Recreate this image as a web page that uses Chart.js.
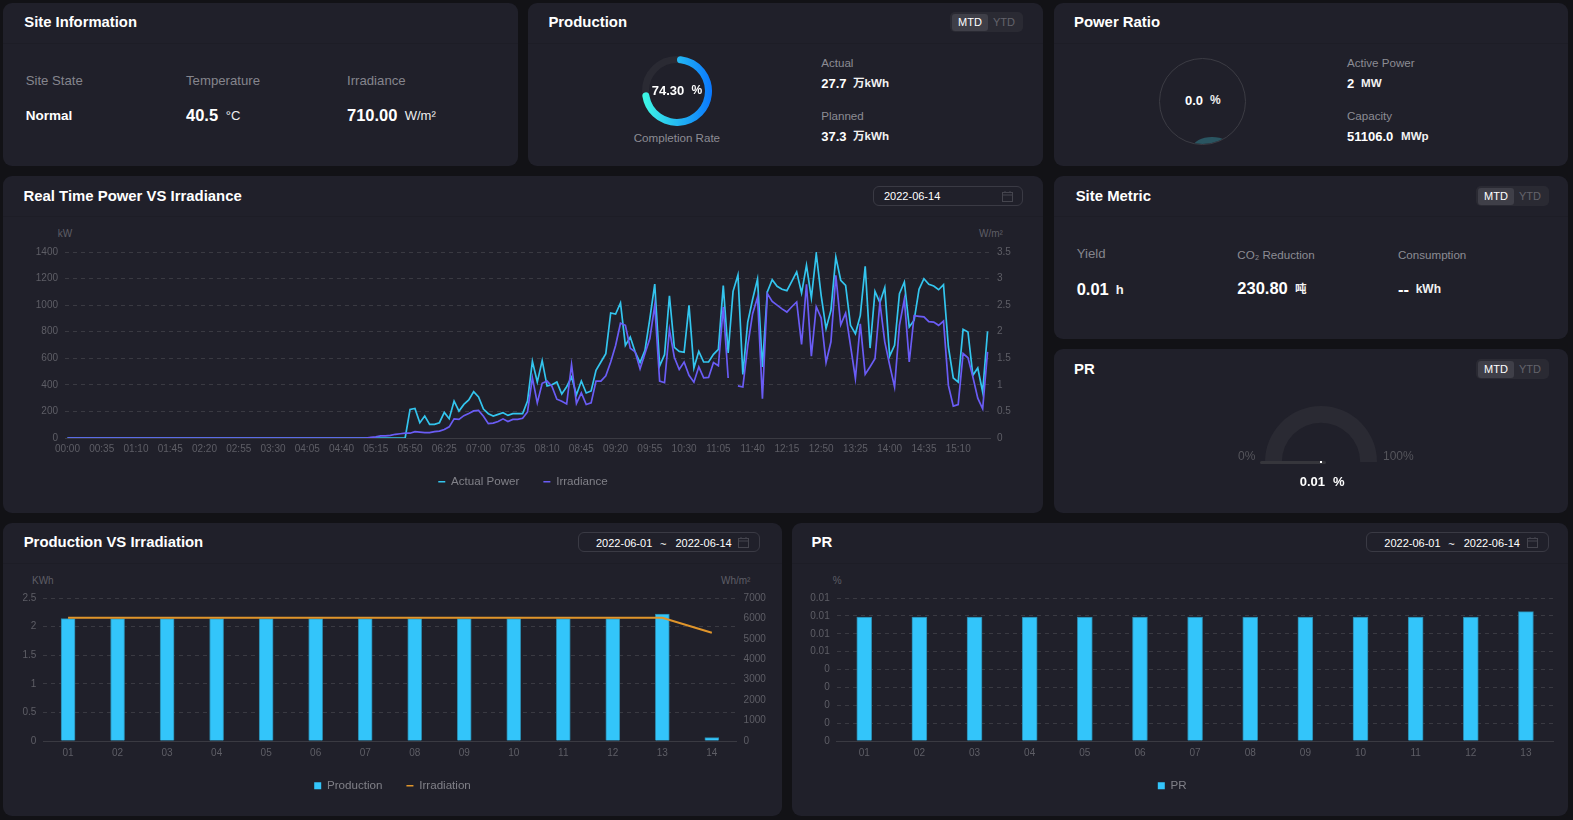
<!DOCTYPE html>
<html lang="en">
<head>
<meta charset="utf-8">
<title>Site dashboard</title>
<script src="https://cdn.jsdelivr.net/npm/chart.js@4/dist/chart.umd.js"></script>
<style>
html,body{margin:0;padding:0;width:1573px;height:820px;overflow:hidden;background:#121216;font-family:"Liberation Sans","Noto Sans CJK SC",sans-serif;}
.card{position:absolute;background:#20202a;border-radius:9px;box-sizing:border-box;}
.hd{position:absolute;left:0;right:0;top:0;height:40px;border-bottom:1px solid #1d1d26;box-sizing:content-box;}
.t{position:absolute;white-space:nowrap;line-height:1;transform:translateY(-50%);margin-top:-1px;}
.title{font-size:14.9px;font-weight:bold;color:#fff;margin-top:0;}
.lab{font-size:11.6px;color:#8c8c94;margin-top:0;}
.lab13{font-size:13.2px;color:#85858d;margin-top:0;}
.val{font-size:13px;font-weight:bold;color:#fff;}
.big{font-size:16.5px;font-weight:bold;color:#fff;}
.unit{font-size:11.6px;font-weight:bold;color:#f2f2f2;}
.axn{font-size:10px;color:#5e5e66;margin-top:0;}
.tog{position:absolute;width:73px;height:20px;background:#2a2a33;border-radius:5px;}
.tog i{position:absolute;left:2px;top:2px;width:36px;height:16.5px;background:#3f3f48;border-radius:3px;}
.tog b,.tog span{position:absolute;top:10px;font-size:11px;line-height:1;font-weight:normal;transform:translate(-50%,-50%);}
.tog b{left:20px;color:#fff;}
.tog span{left:54px;color:#63636b;}
.pick{position:absolute;height:20px;border:1px solid #3a3a44;border-radius:6px;box-sizing:border-box;}
.dt{font-size:11px;color:#fff;margin-top:0;}
svg.ic{position:absolute;width:11px;height:11px;}
canvas{position:absolute;display:block;}
</style>
</head>
<body>
<div class="card" style="left:3px;top:3px;width:515px;height:163px"><div class="hd"></div></div>
<div class="card" style="left:528px;top:3px;width:515px;height:163px"><div class="hd"></div></div>
<div class="card" style="left:1054px;top:3px;width:514px;height:163px"><div class="hd"></div></div>
<div class="card" style="left:3px;top:176px;width:1040px;height:337px"><div class="hd"></div></div>
<div class="card" style="left:1054px;top:176px;width:514px;height:163px"><div class="hd"></div></div>
<div class="card" style="left:1054px;top:349px;width:514px;height:164px"></div>
<div class="card" style="left:3px;top:523px;width:779px;height:293px"><div class="hd"></div></div>
<div class="card" style="left:792px;top:523px;width:776px;height:293px"><div class="hd"></div></div>

<!-- Site Information -->
<div class="t title" style="left:24.3px;top:21.5px;font-size:14.8px">Site Information</div>
<div class="t lab13" style="left:25.7px;top:81px">Site State</div>
<div class="t lab13" style="left:186px;top:81px">Temperature</div>
<div class="t lab13" style="left:347px;top:81px">Irradiance</div>
<div class="t" style="left:25.7px;top:116.5px;font-size:13.5px;font-weight:bold;color:#fff">Normal</div>
<div class="t big" style="left:186px;top:115.5px">40.5</div>
<div class="t" style="left:225.7px;top:116px;font-size:13px;color:#eee">°C</div>
<div class="t big" style="left:347px;top:115.5px">710.00</div>
<div class="t" style="left:404.7px;top:116px;font-size:13px;color:#eee">W/m²</div>

<!-- Production -->
<div class="t title" style="left:548.4px;top:21.5px">Production</div>
<div class="tog" style="left:950px;top:12px"><i></i><b>MTD</b><span>YTD</span></div>
<div class="t lab" style="left:676.9px;top:137.5px;transform:translate(-50%,-50%)">Completion Rate</div>
<div class="t lab" style="left:821.2px;top:62.8px">Actual</div>
<div class="t val" style="left:821.2px;top:83.5px">27.7</div>
<div class="t unit" style="left:853px;top:83.5px">万kWh</div>
<div class="t lab" style="left:821.2px;top:115.8px">Planned</div>
<div class="t val" style="left:821.2px;top:136.5px">37.3</div>
<div class="t unit" style="left:853px;top:136.5px">万kWh</div>
<div style="position:absolute;left:641.5px;top:55.7px;width:70px;height:70px;border:7px solid #2a2a33;border-radius:50%;box-sizing:border-box"></div>
<canvas id="ring" width="70" height="70" style="left:641.5px;top:55.7px"></canvas>
<div class="t val" style="left:651.8px;top:90.7px">74.30</div>
<div class="t" style="left:691.5px;top:91px;font-size:12px;font-weight:bold;color:#fff">%</div>

<!-- Power Ratio -->
<div class="t title" style="left:1074px;top:21.5px">Power Ratio</div>
<div style="position:absolute;left:1159px;top:57.7px;width:87px;height:87px;border:1px solid #3c3c44;border-radius:50%;box-sizing:border-box;overflow:hidden">
  <div style="position:absolute;left:33px;top:78.5px;width:38px;height:20px;background:#2a5561;border-radius:50%"></div>
</div>
<div class="t val" style="left:1185px;top:100.5px">0.0</div>
<div class="t" style="left:1210px;top:101px;font-size:12px;font-weight:bold;color:#eee">%</div>
<div class="t lab" style="left:1347px;top:62.8px">Active Power</div>
<div class="t val" style="left:1347px;top:83.5px">2</div>
<div class="t unit" style="left:1361px;top:84px">MW</div>
<div class="t lab" style="left:1347px;top:115.8px">Capacity</div>
<div class="t val" style="left:1347px;top:136.5px">51106.0</div>
<div class="t unit" style="left:1401px;top:137px">MWp</div>

<!-- Real Time Power VS Irradiance -->
<div class="t title" style="left:23.5px;top:195.5px">Real Time Power VS Irradiance</div>
<div class="pick" style="left:873px;top:186px;width:150px"></div>
<div class="t dt" style="left:884px;top:196px">2022-06-14</div>
<svg class="ic" style="left:1002px;top:191px" viewBox="0 0 11 11" fill="none" stroke="#45454e"><rect x=".5" y="1.5" width="10" height="9"/><path d="M.5 4h10M3 0v2M8 0v2"/></svg>
<div class="t axn" style="left:57.7px;top:234.3px">kW</div>
<div class="t axn" style="left:979px;top:234.3px">W/m²</div>
<canvas id="main" width="1040" height="282" style="left:3px;top:216px"></canvas>

<!-- Site Metric -->
<div class="t title" style="left:1075.7px;top:195.5px">Site Metric</div>
<div class="tog" style="left:1476px;top:186px"><i></i><b>MTD</b><span>YTD</span></div>
<div class="t lab13" style="left:1076.7px;top:254px">Yield</div>
<div class="t lab" style="left:1237.3px;top:254.5px">CO₂ Reduction</div>
<div class="t lab" style="left:1398px;top:254.5px">Consumption</div>
<div class="t big" style="left:1076.7px;top:289.5px">0.01</div>
<div class="t" style="left:1115.7px;top:290px;font-size:13px;font-weight:bold;color:#f2f2f2">h</div>
<div class="t big" style="left:1237.3px;top:288.5px">230.80</div>
<div class="t unit" style="left:1295px;top:290px">吨</div>
<div class="t big" style="left:1398px;top:290px">--</div>
<div class="t unit" style="left:1415.7px;top:290px;font-size:12px">kWh</div>

<!-- PR gauge -->
<div class="t title" style="left:1074px;top:368.5px">PR</div>
<div class="tog" style="left:1476px;top:359px"><i></i><b>MTD</b><span>YTD</span></div>
<canvas id="gauge" width="112" height="56" style="left:1265.3px;top:406px"></canvas>
<div style="position:absolute;left:1260px;top:460.5px;width:66px;height:3px;background:#36363c;border-radius:2px"></div>
<div style="position:absolute;left:1320px;top:461px;width:2px;height:2px;background:#fff"></div>
<div class="t" style="left:1238px;top:456.7px;font-size:12px;color:#55555c">0%</div>
<div class="t" style="left:1383px;top:456.7px;font-size:12px;color:#55555c">100%</div>
<div class="t val" style="left:1299.7px;top:482px">0.01</div>
<div class="t val" style="left:1333px;top:482px">%</div>

<!-- Production VS Irradiation -->
<div class="t title" style="left:23.7px;top:541.5px">Production VS Irradiation</div>
<div class="pick" style="left:578px;top:532px;width:182px"></div>
<div class="t dt" style="left:596px;top:543px">2022-06-01</div>
<div class="t dt" style="left:660px;top:543.5px">~</div>
<div class="t dt" style="left:675.4px;top:543px">2022-06-14</div>
<svg class="ic" style="left:738.4px;top:537px" viewBox="0 0 11 11" fill="none" stroke="#45454e"><rect x=".5" y="1.5" width="10" height="9"/><path d="M.5 4h10M3 0v2M8 0v2"/></svg>
<div class="t axn" style="left:32px;top:581.3px">KWh</div>
<div class="t axn" style="left:721px;top:581.3px">Wh/m²</div>
<canvas id="prod" width="779" height="236" style="left:3px;top:566px"></canvas>

<!-- PR by day -->
<div class="t title" style="left:811.6px;top:541.5px">PR</div>
<div class="pick" style="left:1366.3px;top:532px;width:182.5px"></div>
<div class="t dt" style="left:1384.3px;top:543px">2022-06-01</div>
<div class="t dt" style="left:1448.3px;top:543.5px">~</div>
<div class="t dt" style="left:1463.7px;top:543px">2022-06-14</div>
<svg class="ic" style="left:1526.7px;top:537px" viewBox="0 0 11 11" fill="none" stroke="#45454e"><rect x=".5" y="1.5" width="10" height="9"/><path d="M.5 4h10M3 0v2M8 0v2"/></svg>
<div class="t axn" style="left:832.7px;top:581.3px">%</div>
<canvas id="pr" width="777" height="236" style="left:791px;top:566px"></canvas>

<script>
const timeLabels = [
"00:00","00:05","00:10","00:15","00:20","00:25","00:30","00:35","00:40","00:45","00:50","00:55",
"01:00","01:05","01:10","01:15","01:20","01:25","01:30","01:35","01:40","01:45","01:50","01:55",
"02:00","02:05","02:10","02:15","02:20","02:25","02:30","02:35","02:40","02:45","02:50","02:55",
"03:00","03:05","03:10","03:15","03:20","03:25","03:30","03:35","03:40","03:45","03:50","03:55",
"04:00","04:05","04:10","04:15","04:20","04:25","04:30","04:35","04:40","04:45","04:50","04:55",
"05:00","05:05","05:10","05:15","05:20","05:25","05:30","05:35","05:40","05:45","05:50","05:55",
"06:00","06:05","06:10","06:15","06:20","06:25","06:30","06:35","06:40","06:45","06:50","06:55",
"07:00","07:05","07:10","07:15","07:20","07:25","07:30","07:35","07:40","07:45","07:50","07:55",
"08:00","08:05","08:10","08:15","08:20","08:25","08:30","08:35","08:40","08:45","08:50","08:55",
"09:00","09:05","09:10","09:15","09:20","09:25","09:30","09:35","09:40","09:45","09:50","09:55",
"10:00","10:05","10:10","10:15","10:20","10:25","10:30","10:35","10:40","10:45","10:50","10:55",
"11:00","11:05","11:10","11:15","11:20","11:25","11:30","11:35","11:40","11:45","11:50","11:55",
"12:00","12:05","12:10","12:15","12:20","12:25","12:30","12:35","12:40","12:45","12:50","12:55",
"13:00","13:05","13:10","13:15","13:20","13:25","13:30","13:35","13:40","13:45","13:50","13:55",
"14:00","14:05","14:10","14:15","14:20","14:25","14:30","14:35","14:40","14:45","14:50","14:55",
"15:00","15:05","15:10","15:15","15:20","15:25","15:30","15:35","15:40"];

const actualPower = [
0,0,0,0,0,0,0,0,0,0, 0,0,0,0,0,0,0,0,0,0,
0,0,0,0,0,0,0,0,0,0, 0,0,0,0,0,0,0,0,0,0,
0,0,0,0,0,0,0,0,0,0, 0,0,0,0,0,0,0,0,0,0,
0,0,0,0,0,0,0,0,0,0,
215,222,115,165,103,103,115,193,145,278,
203,253,286,349,309,218,183,165,178,190,
170,183,183,183,278,577,421,582,391,401,
421,331,386,459,326,429,339,354,509,572,
635,941,933,1016,697,760,647,567,660,898,
1159,542,627,1071,682,652,645,998,527,652,
572,572,630,667,1147,640,1104,1227,479,873,
1044,1197,534,1099,1192,1142,1119,1109,1179,1250,
1091,1300,1054,1387,1074,823,961,1362,1187,1149,
848,785,923,1292,677,1104,1019,1132,617,697,
1086,1174,835,886,1119,1199,1157,1144,1116,1154,
685,452,421,818,798,472,527,346,803];

const irradiance = [
0,0,0,0,0,0,0,0,0,0, 0,0,0,0,0,0,0,0,0,0,
0,0,0,0,0,0,0,0,0,0, 0,0,0,0,0,0,0,0,0,0,
0,0,0,0,0,0,0,0,0,0, 0,0,0,0,0,0,0,0,0,0,
0,0,.01,.02,.04,.04,.05,.07,.08,.09,
.09,.12,.11,.10,.10,.12,.13,.16,.21,.36,
.35,.42,.46,.51,.52,.41,.27,.28,.31,.36,
.31,.35,.35,.37,.49,1.13,.66,1.03,1.07,.97,
.73,.69,.64,1.38,.65,.85,.63,.66,1.07,1.07,
1.17,1.43,1.74,2.16,2.12,1.69,1.62,1.30,1.59,1.87,
2.50,1.07,1.04,2.04,1.52,1.29,1.43,1.18,1.05,1.34,
1.13,1.14,1.42,1.36,2.47,1.13,null,.98,.96,1.74,
2.34,2.65,.74,2.72,2.57,2.50,2.43,2.37,2.47,2.56,
1.76,2.89,1.54,2.47,2.26,1.42,1.81,3.06,2.13,2.35,
1.74,1.12,2.15,1.20,1.34,1.49,2.55,1.81,1.37,.96,
2.12,2.61,1.43,2.30,2.29,2.28,2.19,2.18,2.12,2.20,
.99,.60,.63,1.59,1.51,1.15,.75,.55,1.62];

const powerTicks = {max:1400, step:200};
const irrTicks = {max:3.5, step:.5};

const prodDays = ["01","02","03","04","05","06","07","08","09","10","11","12","13","14"];
const production = [2.14,2.14,2.14,2.14,2.14,2.14,2.14,2.14,2.14,2.14,2.14,2.14,2.22,0.06];
const irradiation = [6030,6030,6030,6030,6030,6030,6030,6030,6030,6030,6030,6030,6030,5300];

const prDays = ["01","02","03","04","05","06","07","08","09","10","11","12","13"];
const prValues = [.01387,.01387,.01387,.01387,.01387,.01387,.01387,.01387,.01387,.01387,.01387,.01387,.01447];

const completion = [74.3, 25.7];
const prGauge = [0.01, 99.99];

const FONT = '"Liberation Sans","Noto Sans CJK SC",sans-serif';
const TICK = '#5e5e66', GRID = '#3a3a42', CYAN = '#33c5fa';
Chart.defaults.font.family = FONT;
Chart.defaults.animation = false;

/* The x scale's box is kept short so the legend can sit close; let its labels draw past that box. */
const roomForXLabels = {id:'roomForXLabels',afterLayout(chart){ chart.scales.x.bottom += 12; }};

function legend(styles){
  return {
    position:'bottom',
    labels:{
      color:'#808088', font:{size:11.6,family:FONT}, padding:24,
      usePointStyle:true, boxWidth:7, boxHeight:7, pointStyleWidth:7,
      sort:(a,b)=>a.datasetIndex-b.datasetIndex,
      generateLabels(chart){
        const items = Chart.defaults.plugins.legend.labels.generateLabels(chart);
        items.forEach(i=>{
          i.pointStyle = styles[i.datasetIndex];
          if(i.pointStyle==='rect'){ i.lineWidth = 0; i.strokeStyle = i.fillStyle; }
          else { i.lineWidth = 1.5; }
          i.fontColor = '#808088';
        });
        return items;
      }
    }
  };
}
function yAxis(o){
  return {
    type:'linear', position:o.pos||'left', min:0, max:o.max,
    afterFit:s=>{s.width=o.w},
    border:o.grid===false?{display:false}:{display:false,dash:[4,4]},
    grid:o.grid===false?{display:false,drawTicks:false}:{color:GRID,lineWidth:1,drawTicks:false},
    ticks:{stepSize:o.step,color:TICK,font:{size:10,family:FONT},padding:o.pad||7,callback:o.fmt||(v=>String(v))}
  };
}
function xAxis(h,pad,cb){
  return {
    type:'category', offset:true,
    afterFit:s=>{s.height=h},
    border:{display:true,color:GRID,width:1},
    grid:{display:false,drawTicks:false},
    ticks:Object.assign({color:TICK,font:{size:10,family:FONT},padding:pad,maxRotation:0,minRotation:0,autoSkip:false},cb?{callback:cb}:{})
  };
}

new Chart(document.getElementById('main'),{
  type:'line',
  plugins:[roomForXLabels],
  data:{labels:timeLabels,datasets:[
    {label:'Actual Power',data:actualPower,yAxisID:'y',borderColor:'#33c5ee',backgroundColor:'#33c5ee',borderWidth:1.7,pointRadius:0,tension:0,order:2},
    {label:'Irradiance',data:irradiance,yAxisID:'y1',borderColor:'#6a5cf5',backgroundColor:'#6a5cf5',borderWidth:1.7,pointRadius:0,tension:0,order:1}
  ]},
  options:{
    responsive:false,
    layout:{padding:{top:36,bottom:.4,left:0,right:0}},
    plugins:{legend:legend(['line','line']),tooltip:{enabled:false}},
    scales:{
      x:xAxis(14,5,function(v,i){return i%7===0?this.getLabelForValue(v):'';}),
      y:yAxis({max:powerTicks.max,step:powerTicks.step,w:62}),
      y1:yAxis({pos:'right',max:irrTicks.max,step:irrTicks.step,w:53,grid:false})
    }
  }
});

new Chart(document.getElementById('prod'),{
  type:'bar',
  plugins:[roomForXLabels],
  data:{labels:prodDays,datasets:[
    {type:'bar',label:'Production',data:production,yAxisID:'y',backgroundColor:CYAN,borderColor:'#2a86a8',borderWidth:1,barThickness:14,order:2},
    {type:'line',label:'Irradiation',data:irradiation,yAxisID:'y1',borderColor:'#e0952b',backgroundColor:'#e0952b',borderWidth:2,pointRadius:0,tension:0,order:1}
  ]},
  options:{
    responsive:false,
    layout:{padding:{top:32,bottom:.4}},
    plugins:{legend:legend(['rect','line']),tooltip:{enabled:false}},
    scales:{
      x:xAxis(15,6),
      y:yAxis({max:2.5,step:.5,w:40.3}),
      y1:yAxis({pos:'right',max:7000,step:1000,w:45.4,grid:false})
    }
  }
});

new Chart(document.getElementById('pr'),{
  type:'bar',
  plugins:[roomForXLabels],
  data:{labels:prDays,datasets:[
    {label:'PR',data:prValues,backgroundColor:CYAN,borderColor:'#2a86a8',borderWidth:1,barThickness:15}
  ]},
  options:{
    responsive:false,
    layout:{padding:{top:32,bottom:.4,right:14.5}},
    plugins:{legend:legend(['rect']),tooltip:{enabled:false}},
    scales:{
      x:xAxis(15,6),
      y:yAxis({max:.016,step:.002,w:45.7,fmt:v=>String(Math.floor(v*100+1e-9)/100)})
    }
  }
});

const ringCtx = document.getElementById('ring').getContext('2d');
const ringGrad = ringCtx.createLinearGradient(70,0,0,0);
ringGrad.addColorStop(0,'#0a78ff');
ringGrad.addColorStop(1,'#3ffbe4');
new Chart(ringCtx,{
  type:'doughnut',
  data:{labels:['Completion','Remaining'],datasets:[{data:completion,backgroundColor:[ringGrad,'rgba(0,0,0,0)'],borderWidth:0,borderRadius:[4,0]}]},
  options:{responsive:false,cutout:28,plugins:{legend:{display:false},tooltip:{enabled:false}}}
});

new Chart(document.getElementById('gauge'),{
  type:'doughnut',
  data:{labels:['PR','Remaining'],datasets:[{data:prGauge,backgroundColor:[CYAN,'#2a2a33'],borderWidth:0}]},
  options:{responsive:false,rotation:-90,circumference:180,cutout:'70%',plugins:{legend:{display:false},tooltip:{enabled:false}}}
});
</script>
</body>
</html>
